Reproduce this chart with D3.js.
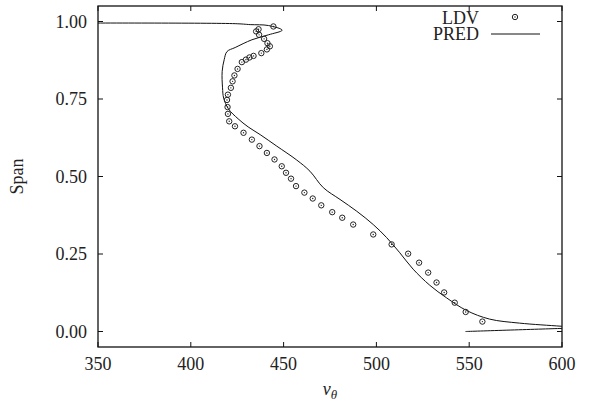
<!DOCTYPE html>
<html>
<head>
<meta charset="utf-8">
<script src="https://cdn.jsdelivr.net/npm/d3@7"></script>
<style>
  body { margin: 0; background: #fff; }
  text { font-family: "Liberation Serif", "DejaVu Serif", serif; fill: #222; }
</style>
</head>
<body>
<div id="chart"></div>
<script>
// LDV measurements (span, v_theta)
const ldvSpan = [0.984, 0.975, 0.968, 0.957, 0.944, 0.930, 0.920, 0.910, 0.898, 0.889, 0.884, 0.877, 0.869,
    0.847, 0.826, 0.807, 0.786, 0.764, 0.747, 0.724, 0.702, 0.678, 0.662, 0.641, 0.619, 0.598, 0.576,
    0.555, 0.533, 0.512, 0.493, 0.469, 0.448, 0.429, 0.407, 0.385, 0.367, 0.345, 0.313, 0.281, 0.251,
    0.222, 0.190, 0.158, 0.126, 0.093, 0.063, 0.032];
const ldvV = [444.5, 436.5, 435.2, 436.8, 439.5, 441.3, 442.6, 441.0, 438.0, 433.8, 431.6, 429.7, 427.5,
    425.2, 423.5, 422.5, 421.6, 420.0, 419.5, 419.8, 420.0, 420.7, 423.8, 428.4, 432.9, 437.0, 441.0,
    445.1, 449.0, 451.3, 454.0, 456.7, 461.2, 465.7, 470.3, 476.2, 481.6, 487.5, 498.3, 508.2, 517.1,
    523.0, 527.9, 532.4, 536.5, 542.2, 548.1, 557.1];

// prediction curve
const predV = [340, 423.9, 432.0, 441.8, 449.2, 441.8, 432.9, 423.9, 419.5, 418.0, 416.9, 417.1, 417.7,
    420.3, 425.5, 430.9, 437.4, 446.3, 457.1, 464.2, 471.4, 480.4, 489.4, 498.3, 505.5, 512.6, 519.8,
    528.8, 537.7, 548.5, 561.0, 577.2, 599.6, 611, 600, 548];
const predSpan = [0.995, 0.993, 0.990, 0.987, 0.972, 0.957, 0.941, 0.916, 0.903, 0.877, 0.839, 0.786, 0.753,
    0.718, 0.686, 0.660, 0.635, 0.598, 0.553, 0.517, 0.464, 0.426, 0.388, 0.345, 0.303, 0.254, 0.201,
    0.149, 0.109, 0.068, 0.040, 0.027, 0.017, 0.012, 0.010, 0.000];

const xTicks = [350, 400, 450, 500, 550, 600];
const yTicks = [0, 0.25, 0.5, 0.75, 1.0];

const width = 589, height = 408;
const margin = { top: 6, right: 27, bottom: 61, left: 98 };
const TICK = 5;

const svg = d3.select('#chart').append('svg')
    .attr('width', width).attr('height', height);

const x = d3.scaleLinear().domain([350, 600]).range([margin.left, width - margin.right]);
const y = d3.scaleLinear().domain([-0.05, 1.05]).range([height - margin.bottom, margin.top]);

const ldv = ldvSpan.map((s, i) => ({ v: ldvV[i], s }));
const pred = predSpan.map((s, i) => ({ v: predV[i], s }));

svg.append('clipPath').attr('id', 'clip').append('rect')
    .attr('x', x(350)).attr('y', y(1.05))
    .attr('width', x(600) - x(350)).attr('height', y(-0.05) - y(1.05));

// ticks, mirrored on all four sides
const axisG = svg.append('g').attr('stroke', '#111').attr('stroke-width', 1);
xTicks.forEach(t => {
    axisG.append('line').attr('x1', x(t)).attr('x2', x(t))
        .attr('y1', y(-0.05)).attr('y2', y(-0.05) - TICK);
    axisG.append('line').attr('x1', x(t)).attr('x2', x(t))
        .attr('y1', y(1.05)).attr('y2', y(1.05) + TICK);
});
yTicks.forEach(t => {
    axisG.append('line').attr('x1', x(350)).attr('x2', x(350) + TICK)
        .attr('y1', y(t)).attr('y2', y(t));
    axisG.append('line').attr('x1', x(600)).attr('x2', x(600) - TICK)
        .attr('y1', y(t)).attr('y2', y(t));
});

svg.selectAll('.xl').data(xTicks).enter().append('text')
    .attr('x', d => x(d)).attr('y', y(-0.05) + 23)
    .attr('text-anchor', 'middle').attr('font-size', 18)
    .text(d => d);

svg.selectAll('.yl').data(yTicks).enter().append('text')
    .attr('x', x(350) - 11).attr('y', d => y(d) + 6)
    .attr('text-anchor', 'end').attr('font-size', 18)
    .text(d => d.toFixed(2));

// prediction line
const line = d3.line().x(d => x(d.v)).y(d => y(d.s)).curve(d3.curveCatmullRom.alpha(0.5));
svg.append('path').datum(pred)
    .attr('clip-path', 'url(#clip)')
    .attr('d', line)
    .attr('fill', 'none').attr('stroke', '#111').attr('stroke-width', 1);

// LDV markers
const marks = svg.append('g').selectAll('g').data(ldv).enter().append('g')
    .attr('transform', d => `translate(${x(d.v)},${y(d.s)})`);
marks.append('circle').attr('r', 2.7).attr('fill', 'none').attr('stroke', '#222').attr('stroke-width', 1);
marks.append('circle').attr('r', 0.7).attr('fill', '#222');

// frame
svg.append('rect')
    .attr('x', x(350)).attr('y', y(1.05))
    .attr('width', x(600) - x(350)).attr('height', y(-0.05) - y(1.05))
    .attr('fill', 'none').attr('stroke', '#111').attr('stroke-width', 1.3);

// legend
const legend = svg.append('g');
legend.append('text').attr('x', 479).attr('y', 24).attr('text-anchor', 'end').attr('font-size', 18).text('LDV');
legend.append('text').attr('x', 479).attr('y', 40).attr('text-anchor', 'end').attr('font-size', 18).text('PRED');
legend.append('circle').attr('cx', 515).attr('cy', 17).attr('r', 2.7)
    .attr('fill', 'none').attr('stroke', '#222').attr('stroke-width', 1);
legend.append('circle').attr('cx', 515).attr('cy', 17).attr('r', 0.7).attr('fill', '#222');
legend.append('line').attr('x1', 491).attr('x2', 540).attr('y1', 34).attr('y2', 34)
    .attr('stroke', '#111').attr('stroke-width', 1);

// axis titles
svg.append('text')
    .attr('transform', `translate(23,${(y(1.05) + y(-0.05)) / 2}) rotate(-90)`)
    .attr('text-anchor', 'middle').attr('font-size', 18).text('Span');

const xt = svg.append('text')
    .attr('x', (x(350) + x(600)) / 2).attr('y', 395)
    .attr('text-anchor', 'middle').attr('font-size', 18);
xt.append('tspan').attr('font-style', 'italic').text('v');
xt.append('tspan').attr('font-style', 'italic').attr('font-size', 13).attr('dy', 4).text('θ');
</script>
</body>
</html>
